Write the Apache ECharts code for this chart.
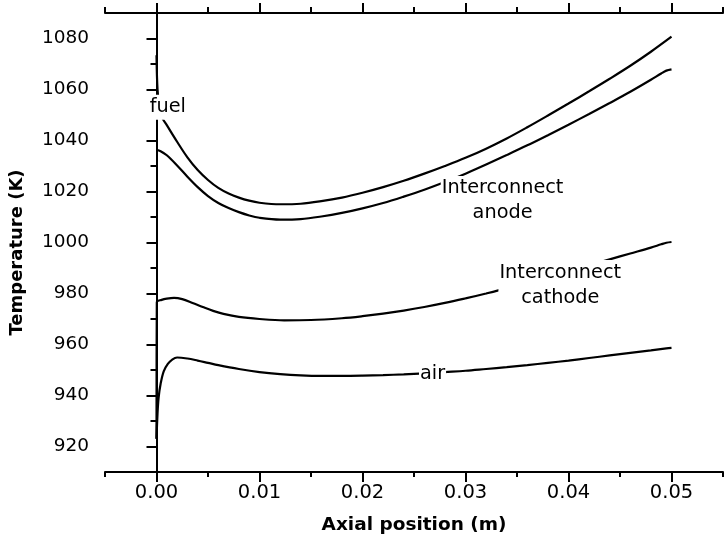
<!DOCTYPE html>
<html>
<head>
<meta charset="utf-8">
<script src="https://cdn.jsdelivr.net/npm/echarts@6/dist/echarts.min.js"></script>
<style>html,body{margin:0;padding:0;background:#fff;}#c{width:725px;height:548px;}</style>
</head>
<body>
<div id="c"></div>
<script>
// ---- data ----
const fuelX = [0, 0.0001, 0.0003, 0.0006, 0.001, 0.002, 0.003, 0.004, 0.005, 0.006, 0.007, 0.008, 0.009, 0.010, 0.012, 0.014, 0.016, 0.018, 0.020, 0.022, 0.024, 0.026, 0.028, 0.030, 0.032, 0.034, 0.036, 0.038, 0.040, 0.042, 0.044, 0.046, 0.048, 0.050];
const fuelY = [1073.4, 1060, 1052.5, 1048.6, 1046, 1039.5, 1033.4, 1028.4, 1024.5, 1021.4, 1019.2, 1017.6, 1016.4, 1015.6, 1015.0, 1015.2, 1016.2, 1017.6, 1019.5, 1021.7, 1024.2, 1027.0, 1030.0, 1033.2, 1036.8, 1040.8, 1045.2, 1049.8, 1054.5, 1059.3, 1064.2, 1069.3, 1074.8, 1080.7];

const anodeX = [0, 0.0004, 0.001, 0.002, 0.003, 0.004, 0.005, 0.006, 0.007, 0.008, 0.009, 0.010, 0.012, 0.014, 0.016, 0.018, 0.020, 0.022, 0.024, 0.026, 0.028, 0.030, 0.032, 0.034, 0.036, 0.038, 0.040, 0.042, 0.044, 0.046, 0.048, 0.049, 0.0495, 0.050];
const anodeY = [1036.3, 1035.8, 1034.2, 1030.2, 1025.8, 1021.7, 1018.2, 1015.5, 1013.5, 1011.9, 1010.6, 1009.7, 1009.0, 1009.2, 1010.2, 1011.6, 1013.4, 1015.5, 1018.0, 1020.7, 1023.7, 1027.0, 1030.6, 1034.3, 1038.1, 1042.1, 1046.2, 1050.4, 1054.7, 1059.1, 1063.8, 1066.3, 1067.4, 1067.9];

const cathodeX = [0, 0.00003, 0.0005, 0.001, 0.0017, 0.0025, 0.0035, 0.0045, 0.0055, 0.0065, 0.008, 0.010, 0.0124, 0.015, 0.018, 0.020, 0.022, 0.024, 0.026, 0.028, 0.030, 0.032, 0.034, 0.036, 0.038, 0.040, 0.042, 0.044, 0.046, 0.048, 0.049, 0.0495, 0.050];
const cathodeY = [923, 976.6, 977.5, 978.0, 978.3, 977.8, 976.3, 974.7, 973.2, 972.0, 970.8, 970.0, 969.5, 969.6, 970.3, 971.1, 972.1, 973.3, 974.7, 976.3, 978.1, 980.0, 982.0, 984.2, 986.5, 988.8, 991.1, 993.4, 995.7, 998.0, 999.3, 999.9, 1000.2];

const airX = [0, 0.0001, 0.0002, 0.0004, 0.0007, 0.0011, 0.0015, 0.002, 0.003, 0.004, 0.005, 0.006, 0.008, 0.010, 0.012, 0.014, 0.016, 0.018, 0.020, 0.022, 0.024, 0.026, 0.028, 0.030, 0.032, 0.034, 0.036, 0.038, 0.040, 0.042, 0.044, 0.046, 0.048, 0.0495, 0.050];
const airY = [923, 933, 939, 944.6, 949.5, 952.4, 954.0, 954.9, 954.5, 953.7, 952.8, 951.9, 950.4, 949.2, 948.4, 947.9, 947.7, 947.7, 947.8, 948.0, 948.3, 948.7, 949.2, 949.7, 950.4, 951.1, 951.9, 952.8, 953.7, 954.7, 955.7, 956.7, 957.7, 958.5, 958.7];

const annotNames = ['fuel', 'Interconnect\nanode', 'Interconnect\ncathode', 'air'];
const annotX = [0.0011, 0.0336, 0.0392, 0.0268];
const annotY = [1053.0, 1016.3, 983.3, 948.5];

const xMajorTicks = [0, 0.01, 0.02, 0.03, 0.04, 0.05];
const xMinorTicks = [-0.005, 0.005, 0.015, 0.025, 0.035, 0.045, 0.055];
const yMajorTicks = [920, 940, 960, 980, 1000, 1020, 1040, 1060, 1080];
const yMinorTicks = [910, 930, 950, 970, 990, 1010, 1030, 1050, 1070, 1090];

const xTitle = 'Axial position (m)';
const yTitle = 'Temperature (K)';

// ---- chart ----
const pair = (xs, ys) => xs.map((x, i) => [x, ys[i]]);
const FONT = 'DejaVu Sans';
const lineStyle = { color: '#000', width: 2.2 };
const axisLine = { show: true, lineStyle: { color: '#000', width: 2 } };

function lineSeries(name, xs, ys) {
  return {
    name, type: 'line', xAxisIndex: 0, yAxisIndex: 0,
    data: pair(xs, ys), showSymbol: false, symbol: 'none',
    smooth: 0.35,
    lineStyle, z: 2, silent: true
  };
}

const chart = echarts.init(document.getElementById('c'), null, { renderer: 'canvas' });
chart.setOption({
  animation: false,
  backgroundColor: '#fff',
  grid: { left: 104, right: 2, top: 13, bottom: 76, containLabel: false },
  xAxis: [
    { type: 'value', position: 'bottom', min: -0.005, max: 0.055,
      axisLine, splitLine: { show: false },
      axisTick: { show: true, inside: false, length: 10, customValues: xMajorTicks, lineStyle: { color: '#000', width: 2 } },
      axisLabel: { show: true, customValues: xMajorTicks, margin: 11, color: '#000', fontFamily: FONT, fontSize: 19.5,
        formatter: v => v.toFixed(2) },
      name: xTitle, nameLocation: 'middle', nameGap: 53,
      nameTextStyle: { fontFamily: FONT, fontWeight: 'bold', fontSize: 18.5, color: '#000', verticalAlign: 'middle' } },
    { type: 'value', position: 'bottom', min: -0.005, max: 0.055,
      axisLine: { show: false }, splitLine: { show: false },
      axisTick: { show: true, length: 5, customValues: xMinorTicks, lineStyle: { color: '#000', width: 2 } },
      axisLabel: { show: false } },
    { type: 'value', position: 'top', min: -0.005, max: 0.055,
      axisLine, splitLine: { show: false },
      axisTick: { show: true, length: 10, customValues: xMajorTicks, lineStyle: { color: '#000', width: 2 } },
      axisLabel: { show: false } },
    { type: 'value', position: 'top', min: -0.005, max: 0.055,
      axisLine: { show: false }, splitLine: { show: false },
      axisTick: { show: true, length: 6, customValues: xMinorTicks, lineStyle: { color: '#000', width: 2 } },
      axisLabel: { show: false } }
  ],
  yAxis: [
    { type: 'value', position: 'left', min: 910, max: 1090,
      axisLine, splitLine: { show: false },
      axisTick: { show: true, length: 10, customValues: yMajorTicks, lineStyle: { color: '#000', width: 2 } },
      axisLabel: { show: true, customValues: yMajorTicks, margin: 16, color: '#000', fontFamily: FONT, fontSize: 18.5,
        formatter: v => String(v) },
      name: yTitle, nameLocation: 'middle', nameGap: 88, nameRotate: 90,
      nameTextStyle: { fontFamily: FONT, fontWeight: 'bold', fontSize: 18, color: '#000', verticalAlign: 'middle',
        padding: [0, 20, 0, 0] } },
    { type: 'value', position: 'left', min: 910, max: 1090,
      axisLine: { show: false }, splitLine: { show: false },
      axisTick: { show: true, length: 6, customValues: yMinorTicks, lineStyle: { color: '#000', width: 2 } },
      axisLabel: { show: false } },
    { type: 'value', position: 'right', min: 910, max: 1090,
      axisLine, splitLine: { show: false },
      axisTick: { show: false }, axisLabel: { show: false } }
  ],
  series: [
    lineSeries('fuel', fuelX, fuelY),
    lineSeries('Interconnect anode', anodeX, anodeY),
    lineSeries('Interconnect cathode', cathodeX, cathodeY),
    lineSeries('air', airX, airY),
    {
      name: 'labels', type: 'scatter', xAxisIndex: 0, yAxisIndex: 0,
      symbol: 'circle', symbolSize: 0, itemStyle: { color: '#fff', opacity: 1 }, z: 10, zlevel: 1, silent: true,
      data: annotNames.map((n, i) => ({ name: n, value: [annotX[i], annotY[i]] })),
      label: { show: true, position: [0, 0], formatter: '{b}', color: '#000', opacity: 1,
        fontFamily: FONT, fontSize: 19.3, lineHeight: 25, align: 'center', verticalAlign: 'middle',
        backgroundColor: '#ffffff', padding: [0, 1] }
    }
  ]
});
</script>
</body>
</html>
